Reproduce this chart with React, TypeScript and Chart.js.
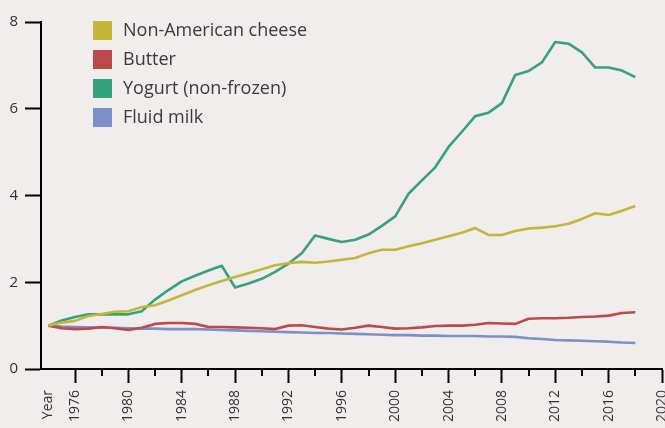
import React, { useEffect, useRef } from "react";
import { Chart, registerables } from "chart.js";

Chart.register(...registerables);

const years = [
  1974, 1975, 1976, 1977, 1978, 1979, 1980, 1981, 1982, 1983,
  1984, 1985, 1986, 1987, 1988, 1989, 1990, 1991, 1992, 1993,
  1994, 1995, 1996, 1997, 1998, 1999, 2000, 2001, 2002, 2003,
  2004, 2005, 2006, 2007, 2008, 2009, 2010, 2011, 2012, 2013,
  2014, 2015, 2016, 2017, 2018,
];

const cheese = [
  1.0, 1.07, 1.11, 1.22, 1.27, 1.32, 1.33, 1.43, 1.47, 1.58,
  1.7, 1.82, 1.93, 2.03, 2.12, 2.21, 2.3, 2.39, 2.44, 2.47,
  2.45, 2.48, 2.52, 2.56, 2.67, 2.75, 2.75, 2.83, 2.9, 2.98,
  3.06, 3.14, 3.25, 3.09, 3.09, 3.18, 3.24, 3.26, 3.29, 3.35,
  3.46, 3.59, 3.55, 3.65, 3.76,
];

const butter = [
  1.0, 0.94, 0.92, 0.93, 0.97, 0.94, 0.9, 0.95, 1.04, 1.06,
  1.06, 1.04, 0.97, 0.97, 0.96, 0.95, 0.94, 0.92, 1.0, 1.01,
  0.97, 0.93, 0.91, 0.95, 1.0, 0.97, 0.93, 0.94, 0.96, 0.99,
  1.0, 1.0, 1.02, 1.06, 1.05, 1.04, 1.16, 1.17, 1.17, 1.18,
  1.2, 1.21, 1.23, 1.29, 1.31,
];

const yogurt = [
  1.0, 1.12, 1.2, 1.26, 1.26, 1.26, 1.26, 1.33, 1.6, 1.82,
  2.02, 2.15, 2.27, 2.38, 1.88, 1.97, 2.08, 2.24, 2.43, 2.67,
  3.08, 3.0, 2.93, 2.98, 3.1, 3.3, 3.52, 4.04, 4.35, 4.65,
  5.12, 5.47, 5.83, 5.91, 6.13, 6.78, 6.87, 7.07, 7.54, 7.5,
  7.3, 6.95, 6.95, 6.88, 6.73,
];

const milk = [
  1.0, 0.98, 0.97, 0.96, 0.95, 0.95, 0.94, 0.93, 0.93, 0.92,
  0.92, 0.92, 0.91, 0.9, 0.89, 0.88, 0.87, 0.86, 0.85, 0.84,
  0.83, 0.83, 0.82, 0.81, 0.8, 0.79, 0.78, 0.78, 0.77, 0.77,
  0.76, 0.76, 0.76, 0.75, 0.75, 0.74, 0.71, 0.69, 0.67, 0.66,
  0.65, 0.64, 0.63, 0.61, 0.6,
];

const seriesLabels = ["Non-American cheese", "Butter", "Yogurt (non-frozen)", "Fluid milk"];
const seriesColors = ["#c3b639", "#bb4b48", "#35a27e", "#7d8fca"];
const xTickValues = [
  1974, 1976, 1978, 1980, 1982, 1984, 1986, 1988, 1990, 1992, 1994, 1996,
  1998, 2000, 2002, 2004, 2006, 2008, 2010, 2012, 2014, 2016, 2018, 2020,
];
const firstLabel = "Year";
const yTickValues = [0, 2, 4, 6, 8];

const BG = "#f0edec";
const FONT = "'Open Sans', Lato, sans-serif";

const legendPlugin = {
  id: "customLegend",
  afterDraw(chart: any) {
    const ctx = chart.ctx;
    ctx.save();
    chart.data.datasets.forEach((ds: any, i: number) => {
      const y = 21 + i * 29;
      ctx.fillStyle = ds.borderColor;
      ctx.fillRect(93, y, 19, 19);
      ctx.fillStyle = "#3a3a3a";
      ctx.font = `18px ${FONT}`;
      ctx.textBaseline = "middle";
      ctx.textAlign = "left";
      ctx.fillText(ds.label, 123, y + 10);
    });
    ctx.restore();
  },
};

const minorTickPlugin = {
  id: "minorTicks",
  afterDraw(chart: any) {
    const scale = chart.scales.x;
    const ctx = chart.ctx;
    ctx.save();
    ctx.strokeStyle = "#000";
    ctx.lineWidth = 2;
    xTickValues.forEach((v) => {
      if (v % 4 !== 0 && v !== xTickValues[0]) {
        const x = Math.round(scale.getPixelForValue(v));
        ctx.beginPath();
        ctx.moveTo(x, scale.top);
        ctx.lineTo(x, scale.top + 7);
        ctx.stroke();
      }
    });
    ctx.restore();
  },
};

export default function App() {
  const ref = useRef<HTMLCanvasElement | null>(null);

  useEffect(() => {
    if (!ref.current) return;
    const mk = (data: number[], i: number) => ({
      label: seriesLabels[i],
      data: years.map((y, k) => ({ x: y, y: data[k] })),
      borderColor: seriesColors[i],
      backgroundColor: seriesColors[i],
      borderWidth: 2.6,
      pointRadius: 0,
      tension: 0,
      borderJoinStyle: "round" as const,
    });
    const chart = new Chart(ref.current, {
      type: "line",
      data: {
        datasets: [mk(cheese, 0), mk(butter, 1), mk(yogurt, 2), mk(milk, 3)],
      },
      options: {
        animation: false,
        responsive: true,
        maintainAspectRatio: false,
        layout: { padding: { top: 22, right: 3, bottom: 0, left: 0 } },
        plugins: { legend: { display: false }, tooltip: { enabled: false } },
        scales: {
          x: {
            type: "linear",
            min: 1973.45,
            max: 2020,
            afterBuildTicks: (scale: any) => {
              scale.ticks = xTickValues.map((v) => ({ value: v }));
            },
            afterFit: (scale: any) => {
              scale.height = 59;
              scale.paddingLeft = 0;
              scale.paddingRight = 0;
            },
            ticks: {
              autoSkip: false,
              maxRotation: 90,
              minRotation: 90,
              padding: 7,
              color: "#333",
              font: { family: FONT, size: 14 },
              callback: (value: any) => {
                const v = Number(value);
                if (v === xTickValues[0]) return firstLabel;
                return v % 4 === 0 ? String(v) : "";
              },
            },
            grid: {
              drawOnChartArea: false,
              drawTicks: true,
              tickLength: 14,
              tickWidth: 2,
              tickColor: (c: any) => {
                const v = c.tick ? c.tick.value : 0;
                return v % 4 === 0 ? "#000" : "rgba(0,0,0,0)";
              },
            },
            border: { display: true, color: "#000", width: 2 },
          },
          y: {
            min: 0,
            max: 8,
            afterBuildTicks: (scale: any) => {
              scale.ticks = yTickValues.map((v) => ({ value: v }));
            },
            afterFit: (scale: any) => {
              scale.width = 41;
              scale.paddingTop = 0;
              scale.paddingBottom = 0;
            },
            ticks: {
              padding: 7,
              color: "#333",
              font: { family: FONT, size: 15 },
            },
            grid: {
              drawOnChartArea: false,
              drawTicks: true,
              tickLength: 16,
              tickWidth: 2,
              tickColor: "#000",
            },
            border: { display: true, color: "#000", width: 2 },
          },
        },
      },
      plugins: [legendPlugin, minorTickPlugin],
    });
    return () => chart.destroy();
  }, []);

  return (
    <div
      style={{
        position: "fixed",
        left: 0,
        top: 0,
        width: 665,
        height: 428,
        background: BG,
      }}
    >
      <canvas ref={ref} />
    </div>
  );
}
